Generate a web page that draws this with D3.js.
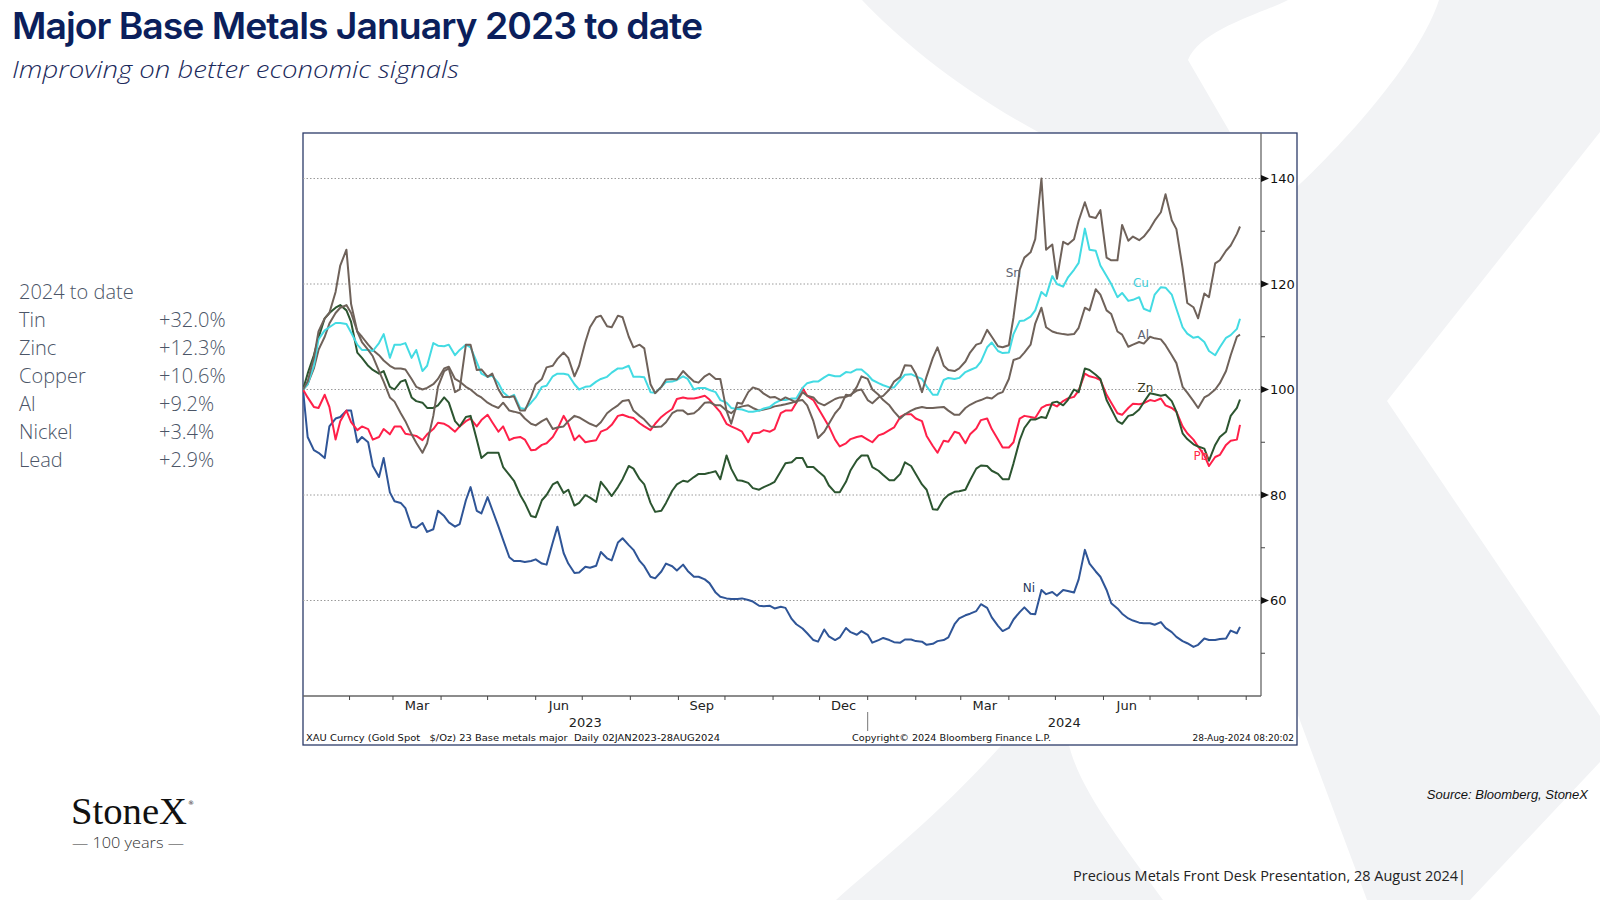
<!DOCTYPE html>
<html><head><meta charset="utf-8">
<script src="https://cdn.jsdelivr.net/npm/d3@7"></script>
<style>html,body{margin:0;padding:0;background:#fff;} svg{display:block;}</style>
</head><body>
<svg id="c" width="1600" height="900"></svg>
<script>
// ---------- data: readings twice a week (Mondays from 2 Jan 2023 + final 28 Aug 2024, and Thursdays), rebased to 100 ----------
const startDate = "2023-01-02";
const endDate = "2024-08-28";
const mondayCount = 87;
const thursdayCount = 86;

const snMon = [100,106,113.5,118.5,126.5,111,107.5,103.5,98.5,95.5,
 91.5,88,95,103.5,99.5,108.5,103.7,102.4,100,98.6,
 96,98.6,102,104.5,107,102.5,109,113.7,112,114,
 110,108.5,101,100.5,102,103.5,101.5,102.5,102,96,
 97.5,99.5,100,98.5,98,98,99.5,98.5,97,98.2,
 98.6,99.8,98,98.5,100,102.4,104.5,99.5,106,104.5,
 103.5,105.3,108.5,111.3,108.2,108.4,122.7,126,140,127.5,
 128,128.5,135.5,132.5,125,124.5,128.2,128.3,130.5,133.6,
 132.1,123,115.6,118.2,123.9,126.3,129.5,130.9];
const snThu = [101.5,111,114.5,123.5,116.2,109,106.3,101.5,97.7,94,
 89.9,89.8,100.5,104,100,108.5,103.8,103,98.6,98.7,
 96,101,104.2,105.8,106,104.5,111.8,114,111.8,113.7,
 108,107.8,99.3,101.9,101.9,102.6,101.3,103,102,93.5,
 97.3,100.4,99.2,98.6,98.5,97.5,98.8,97.5,97.5,98.5,
 99,100,97.4,98.8,101.5,104.6,103,102.5,108,103.7,
 104,107,108.8,110,108,113.7,125,128.5,126.5,121,
 127.5,132,132.8,134,124.5,131.2,129,129,132,137,
 130.4,116.4,113.5,117.5,124.5,127.3];

const alMon = [100,104,110,114.5,116,111,108.5,106.5,104.5,104,
 102,100,101,104,102,100.5,99,97.5,96.5,96,
 95.5,93.5,94,92.5,93,95,94,93,95.5,97,
 98,95,93,93,95.5,96,95.5,97.5,97,96,
 96.5,97,96,96.5,97,97.5,98,94,92,95.5,
 99,100.5,102,99,97,94.5,96,96.7,96.5,96.7,
 95.2,96.5,97.7,98.5,99.2,102,106,108.5,115.5,111,
 110.5,110.5,115.5,119,115,111,108.1,109,110,109.5,
 106.5,100.5,97.8,98.5,100,103.5,110,110.4];
const alThu = [101,107.5,112.5,115.5,114.5,110,107.5,105.5,104,103.8,
 100.5,100.3,102,104.3,101.5,100,98.5,97,97.5,95.8,
 94.5,93.2,94.5,92.8,94,94.7,93.5,93.8,96.2,97.8,
 96,94.3,92.9,93.8,96,95.3,96.2,97.6,97,95.5,
 96.8,96.5,96.2,96.8,97.2,97.8,97,90.8,93.5,96.5,
 98.8,102.5,100,98,95.8,95.3,96.4,96.5,96.6,96,
 95.2,97.1,98,98.3,99.5,105.6,107,112.5,111.8,110.7,
 110.4,111.7,115,118,114.3,110.4,108.5,108.7,109.7,108.4,
 105,99.4,96.5,99,101.2,106.5];

const cuMon = [100,104.5,111.2,112.6,112.4,108.5,107.5,108.8,106,108.5,
 106,103.5,108.8,108.2,106.5,108.5,105.2,102.4,101.2,98.5,
 96.5,97.5,100.5,102.5,103,101,100.5,101.5,102.4,104,
 104.5,102.4,99.5,100.5,101.5,102.5,100,100.3,99.5,97.5,
 96.3,95.8,96,96.7,98,98.3,100.3,101.5,102.3,102.5,
 103.3,103.8,102.8,101.2,100.4,101.8,102.9,102,99,101.8,
 102,103.3,104.2,108,107.3,107,113,113.8,118.5,121.5,
 119.5,122.7,130.5,126.3,121.5,117.5,116.8,117.5,114.8,119.4,
 118,111.8,109.8,109,106.5,109.8,111.5,113.4];
const cuThu = [101,109.5,111.8,112.6,110.8,107.5,107.3,110.5,108.5,108.8,
 107.5,104.5,108.3,108.5,107.5,108,103,102.6,99.5,99,
 96.3,98.5,100.7,103,102.8,100,100.6,102,103.2,104,
 102.4,102.3,99.4,101.4,101.8,102,100.3,99.9,98,96.5,
 96.2,95.8,96.4,97.4,98,98.3,101.2,101.5,102.8,102.5,
 103.2,103.8,101.8,100.8,100.4,102.8,102.5,100.6,99,102.2,
 102.2,103.7,105.3,108.9,106.9,110.5,113.1,115,117.7,120,
 121.2,124,126.5,123.5,120,118.3,117,115.3,118,119.3,
 115.3,110.6,110,107.3,108,110.3];

const znMon = [100,106.5,113.5,115.5,115,107,104.5,103,100.5,101.5,
 98.5,97.5,96.5,98.5,94,94.8,90.5,88,88,83.8,
 80,76,79,82,80.4,78,80,78.7,81,81.5,
 85.5,83,78.5,77,80.8,82.7,83.4,84,84.5,87.5,
 82.8,82.3,81,82,84.5,86.2,87,85.3,83.5,80.5,
 82.5,86.6,87.5,84.6,82.8,84,85.5,82,77.3,79.2,
 80.6,81,85,85.5,84,83,90.4,94.3,94.8,97.5,
 97,100,104,102.8,98,94,95,96.2,99.3,98.8,
 97.8,91.7,89.6,88.8,89.5,92,96.5,98.1];
const znThu = [103,109.8,114.5,116,112.8,106,103.7,103.5,100,101.8,
 97.8,96.5,97,97.5,93,95,87,88,85.3,82.7,
 78.5,75.8,80,82.5,81,78.5,79.5,82.5,79.8,83,
 85,82,76.8,78.5,82,82.5,84,84.2,83,85,
 82.7,81.3,81.5,82.5,86,87,85.3,84.5,81.8,80.5,
 84.7,87.5,85.3,83.8,82.8,86.2,84,81,77.2,80,
 80.7,82.8,85.6,84.6,83,86,92.7,94.3,94.6,97.7,
 98,99.5,103.7,102,96.3,93.5,95.2,97.6,99.1,99,
 95.8,90.6,89.2,86.5,91,95];

const pbMon = [100,96.7,99,90.5,96,92.3,92.5,91,91.5,93,
 91.4,90.4,92.5,93.5,92,94,93,95.2,92,90.4,
 91,88.5,89.5,91,95,90.4,90,90.4,92.5,95,
 94.8,93.6,92.3,94.8,96.3,98.5,98.3,98.8,96.7,93.5,
 92.5,90,91.8,92,95.5,96,100.3,98,94.5,90.5,
 89.8,91,90.5,91.3,92.3,94.8,95.3,94,89.3,90.3,
 92,89.8,92.6,94.5,90.5,89,94.5,94.8,96.5,97.2,
 97.8,98.6,103,102.2,99,95.5,96.5,97.2,98,98.3,
 96.5,93,90.5,87.5,87.2,89.5,90.5,93.3];
const pbThu = [98.5,96.5,96.7,94,93.8,93,90.5,92.5,93,91.6,
 91.2,91.5,93.7,93,93,94.5,94.2,93.8,93,90.8,
 90.5,88.6,89.8,92.5,93.5,91.3,90.2,92,93.3,95.2,
 94.6,93,93.5,95.5,98.2,98.3,98.5,98.1,95.7,93,
 92,91.7,92.3,92.5,96,97.5,98.8,96.5,93,89.2,
 90.6,91.2,90,91.6,92.8,95.3,94.5,91.2,88,90.1,
 91.7,91.5,94.2,92.5,89,90,95,94.6,97,96.8,
 98.3,99.8,102.5,101.8,97.5,95.2,97.3,97.4,97.8,97,
 95.8,91.7,89.2,85.5,87.6,90.3];

const niMon = [100,88.5,87,94.5,96,90,90,83.4,80.5,78.5,
 74,74.7,73.5,76,74,79,77,79.6,74,68.2,
 67.5,67.5,67,71,69,65.2,66.4,66.6,68,71,
 70.5,67.5,64.5,65.5,66.5,66.8,64.5,64,61.5,60.4,
 60.3,60.1,59,59,58.8,56.5,54.7,52.5,54.5,52.5,
 54.8,53.5,53.5,52.5,52.5,52,52.6,52.2,51.8,52.5,
 55.5,57.2,58,58.6,55.2,54.8,57.8,57.5,62,61.6,
 62,61.5,69.6,65.5,62,58.5,56.6,55.8,55.7,55.9,
 54,52.3,51.2,52.8,52.5,52.8,53.8,55];
const niThu = [91,88,93,94.8,96,91,85.5,87,78.8,77.5,
 73.8,73,77,74.8,74.5,81.5,76.5,77.2,71.5,67.5,
 67.3,67.8,66.8,74,67,65.3,66.2,69.2,67.6,71.8,
 69.6,66.5,64.2,67,65.7,65.6,64.5,63.3,60.7,60.3,
 60.4,59.8,58.9,58.5,58.6,55.5,53.8,52.2,53.2,53,
 54,54.2,52,52.9,52.1,52.6,52.3,51.6,52.3,53,
 56.6,57.5,59.3,56.8,54.2,56.4,58.7,57.4,61.2,60.9,
 61.8,64,67,64.5,59.5,57.5,56.2,55.7,55.4,54.8,
 53.1,51.9,51.6,52.5,52.7,54.3];

const seriesKeys   = ["Ni","Pb","Zn","Al","Cu","Sn"];
const seriesColors = ["#2f5597","#ff2049","#2c5530","#6f625a","#43dbe3","#6f625a"];
const labelColors  = ["#27395e","#ff2a4a","#3a3a22","#5e6373","#3fd0dc","#5e6373"];
const labelDates   = ["2024-04-10","2024-07-29","2024-06-23","2024-06-23","2024-06-20","2024-03-30"];
const labelValues  = [62.4,87.4,100.3,110.3,120.2,122.1];

const yMajor = [60,80,100,120,140];
const yMinor = [50,70,90,110,130];
const quarterMonths = [2,5,8,11];
const quarterLabels = ["Mar","Jun","Sep","Dec"];
const years = [2023,2024];

const ytdTitle = "2024 to date";
const ytdNames = ["Tin","Zinc","Copper","Al","Nickel","Lead"];
const ytdValues = ["+32.0%","+12.3%","+10.6%","+9.2%","+3.4%","+2.9%"];

// ---------- build ----------
const parse = d3.timeParse("%Y-%m-%d");
const start = parse(startDate), end = parse(endDate);
const monDates = d3.range(mondayCount).map(i => d3.timeDay.offset(start, 7*i)).concat([end]);
const thuDates = d3.range(thursdayCount).map(i => d3.timeDay.offset(start, 7*i + 3));
const seriesData = {
  Sn: [snMon, snThu], Al: [alMon, alThu], Cu: [cuMon, cuThu],
  Zn: [znMon, znThu], Pb: [pbMon, pbThu], Ni: [niMon, niThu]
};
function points(key) {
  const [mon, thu] = seriesData[key];
  return monDates.map((d,j) => [d, mon[j]])
    .concat(thuDates.map((d,j) => [d, thu[j]]))
    .sort((a,b) => a[0] - b[0]);
}

const svg = d3.select("#c");

// background watermark (StoneX "X")
const wm = svg.append("g");
wm.append("path").attr("fill","#f2f3f5")
  .attr("d","M862,0 L1600,0 L1600,900 L836,900 C880,860 960,800 1040,700 L1040,133 C960,90 900,40 862,0 Z");
wm.append("path").attr("fill","#fff")
  .attr("d","M1288,0 L1439,0 C1420,60 1340,150 1274,208 L1188,60 C1200,30 1260,14 1288,0 Z");
wm.append("path").attr("fill","#fff").attr("d","M1600,132 L1387,401 L1600,716 Z");
wm.append("path").attr("fill","#fff")
  .attr("d","M1240,560 L1367,900 L1163,900 C1120,840 1080,790 1069,745 Z");
wm.append("path").attr("fill","#fff").attr("d","M1600,762 L1600,900 L1470,900 Z");

// title
svg.append("text").attr("x",12).attr("y",39)
  .attr("font-family","Inter, 'DejaVu Sans', sans-serif").attr("font-weight",600)
  .attr("font-size",37).attr("letter-spacing",-1).attr("fill","#0b1f5c")
  .attr("textLength",690).attr("lengthAdjust","spacingAndGlyphs")
  .text("Major Base Metals January 2023 to date");
svg.append("text").attr("x",12).attr("y",78)
  .attr("font-family","'Open Sans', sans-serif").attr("font-style","italic").attr("font-weight",300)
  .attr("font-size",24).attr("fill","#1b2a5c")
  .attr("textLength",447).attr("lengthAdjust","spacingAndGlyphs")
  .text("Improving on better economic signals");

// left YTD block
const ytd = svg.append("g").attr("font-family","'Open Sans', sans-serif")
  .attr("font-size",20).attr("fill","#4b5567").attr("font-weight",300);
ytd.append("text").attr("x",19).attr("y",299).text(ytdTitle);
ytdNames.forEach((n,i) => {
  ytd.append("text").attr("x",19).attr("y",327 + i*28).text(n);
  ytd.append("text").attr("x",159).attr("y",327 + i*28).text(ytdValues[i]);
});

// chart frame
const L = 303, R = 1261, T = 133, B = 696;
svg.append("rect").attr("x",L).attr("y",T).attr("width",994).attr("height",612)
  .attr("fill","#fff").attr("stroke","#2b3b69").attr("stroke-width",1.3);

const x = d3.scaleTime().domain([start, end]).range([303, 1240]);
const y = d3.scaleLinear().domain([60,140]).range([600.5,178.5]);

// gridlines
svg.append("g").selectAll("line").data(yMajor).join("line")
  .attr("x1",L).attr("x2",R).attr("y1",d=>y(d)).attr("y2",d=>y(d))
  .attr("stroke","#9a9a9a").attr("stroke-width",1).attr("stroke-dasharray","1.5,2");

// axis lines
svg.append("line").attr("x1",L).attr("x2",R).attr("y1",B).attr("y2",B).attr("stroke","#666").attr("stroke-width",1.3);
svg.append("line").attr("x1",R).attr("x2",R).attr("y1",T).attr("y2",B).attr("stroke","#666").attr("stroke-width",1.3);

// right axis ticks and labels
const ya = svg.append("g");
ya.selectAll("path").data(yMajor).join("path")
  .attr("d",d=>`M${R},${y(d)-3.5} L${R+8},${y(d)} L${R},${y(d)+3.5} Z`).attr("fill","#111");
ya.selectAll("line").data(yMinor).join("line")
  .attr("x1",R).attr("x2",R+4).attr("y1",d=>y(d)).attr("y2",d=>y(d)).attr("stroke","#444");
ya.selectAll("text").data(yMajor).join("text")
  .attr("x",R+9).attr("y",d=>y(d)).attr("dy","0.36em")
  .attr("font-family","'DejaVu Sans', sans-serif").attr("font-size",13).attr("fill","#111")
  .text(d=>d);

// x axis month ticks
const months = d3.timeMonth.range(d3.timeMonth.offset(d3.timeMonth.floor(start),1), d3.timeMonth.offset(end,1));
svg.append("g").selectAll("line").data(months).join("line")
  .attr("x1",d=>x(d)).attr("x2",d=>x(d)).attr("y1",B).attr("y2",B+4).attr("stroke","#444");
const qMonths = d3.timeMonth.range(start, end).filter(d => quarterMonths.includes(d.getMonth()));
svg.append("g").selectAll("text").data(qMonths).join("text")
  .attr("x",d => (x(d) + x(d3.timeMonth.offset(d,1)))/2).attr("y",710)
  .attr("text-anchor","middle").attr("font-family","'DejaVu Sans', sans-serif")
  .attr("font-size",13).attr("fill","#222")
  .text(d => quarterLabels[quarterMonths.indexOf(d.getMonth())]);
const yearStart2024 = new Date(2024,0,1);
const yearCenters = [(x(start)+x(yearStart2024))/2, (x(yearStart2024)+R)/2];
svg.append("g").selectAll("text").data(years).join("text")
  .attr("x",(d,i)=>yearCenters[i]).attr("y",727).attr("text-anchor","middle")
  .attr("font-family","'DejaVu Sans', sans-serif").attr("font-size",13).attr("fill","#222")
  .text(d=>d);
svg.append("line").attr("x1",x(yearStart2024)).attr("x2",x(yearStart2024))
  .attr("y1",712).attr("y2",731).attr("stroke","#777");

// footer inside frame
const ft = svg.append("g").attr("font-family","'DejaVu Sans', sans-serif").attr("font-size",9).attr("fill","#111");
ft.append("text").attr("x",306).attr("y",741).attr("xml:space","preserve")
  .attr("textLength",414).attr("lengthAdjust","spacingAndGlyphs")
  .text("XAU Curncy (Gold Spot   $/Oz) 23 Base metals major  Daily 02JAN2023-28AUG2024");
ft.append("text").attr("x",852).attr("y",741).attr("textLength",199).attr("lengthAdjust","spacingAndGlyphs")
  .text("Copyright\u00A9 2024 Bloomberg Finance L.P.");
ft.append("text").attr("x",1294).attr("y",741).attr("text-anchor","end")
  .text("28-Aug-2024 08:20:02");

// lines
svg.append("clipPath").attr("id","pc").append("rect").attr("x",L).attr("y",T).attr("width",R-L).attr("height",B-T);
const line = d3.line().x(d=>x(d[0])).y(d=>y(d[1]));
const lg = svg.append("g").attr("clip-path","url(#pc)");
seriesKeys.forEach((k,i) => {
  lg.append("path").attr("d", line(points(k))).attr("fill","none")
    .attr("stroke", seriesColors[i]).attr("stroke-width",2).attr("stroke-linejoin","round");
});
// series labels
svg.append("g").selectAll("text").data(seriesKeys).join("text")
  .attr("x",(d,i)=>x(parse(labelDates[i]))).attr("y",(d,i)=>y(labelValues[i])).attr("dy","0.36em")
  .attr("font-family","'DejaVu Sans', sans-serif").attr("font-size",12)
  .attr("fill",(d,i)=>labelColors[i]).text(d=>d);

// logo
svg.append("text").attr("x",71).attr("y",824).attr("font-family","'Liberation Serif', serif")
  .attr("font-size",38).attr("fill","#111").attr("textLength",116).attr("lengthAdjust","spacingAndGlyphs")
  .text("StoneX");
svg.append("text").attr("x",188).attr("y",805).attr("font-family","'DejaVu Sans', sans-serif")
  .attr("font-size",6).attr("fill","#111").text("\u00AE");
svg.append("text").attr("x",72).attr("y",848).attr("font-family","'Open Sans', sans-serif")
  .attr("font-weight",300).attr("font-size",15).attr("fill","#333")
  .attr("textLength",112).attr("lengthAdjust","spacingAndGlyphs").text("\u2014 100 years \u2014");

// source + footer
svg.append("text").attr("x",1588).attr("y",799).attr("text-anchor","end")
  .attr("font-family","'Liberation Sans', Arial, sans-serif").attr("font-style","italic")
  .attr("font-size",13).attr("fill","#111").text("Source: Bloomberg, StoneX");
svg.append("text").attr("x",1073).attr("y",881)
  .attr("font-family","'Open Sans', sans-serif").attr("font-size",14).attr("fill","#222")
  .attr("textLength",393).attr("lengthAdjust","spacingAndGlyphs")
  .text("Precious Metals Front Desk Presentation, 28 August 2024|");
</script>
</body></html>
